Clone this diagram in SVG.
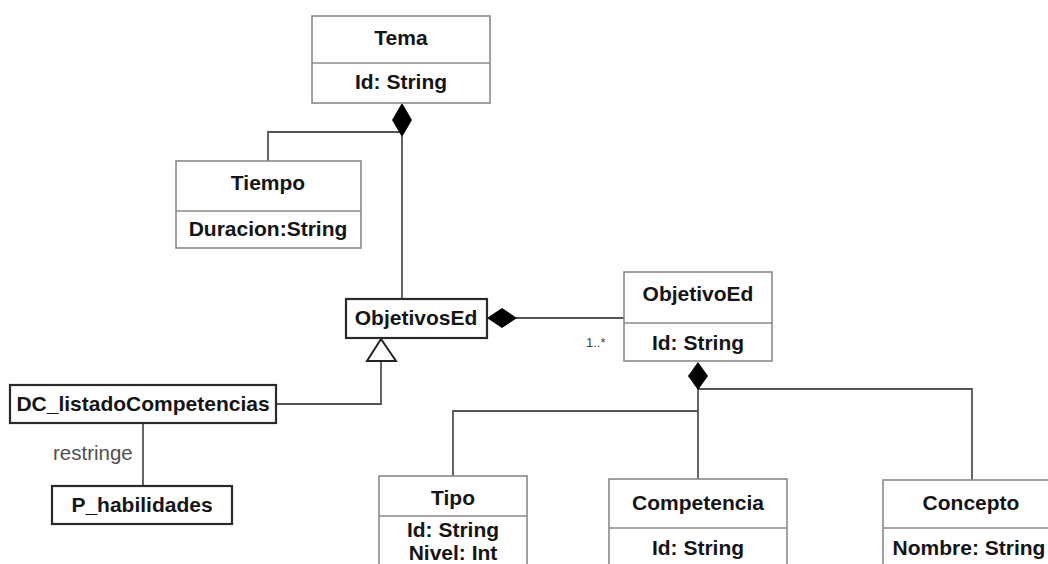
<svg xmlns="http://www.w3.org/2000/svg" width="1048" height="564" viewBox="0 0 1048 564">
  <style>
    .cls { fill: #ffffff; stroke: #8a8a8a; stroke-width: 1.6; }
    .sep { stroke: #8a8a8a; stroke-width: 1.4; }
    .blk { fill: #ffffff; stroke: #2a2a2a; stroke-width: 2.2; }
    .t { font-family: "Liberation Sans", Arial, sans-serif; font-weight: bold; font-size: 21px; fill: #151515; text-anchor: middle; }
    .lbl { font-family: "Liberation Sans", Arial, sans-serif; font-size: 20.5px; fill: #505050; }
    .mult { font-family: "Liberation Sans", Arial, sans-serif; font-size: 13px; fill: #444444; }
    .edge { fill: none; stroke: #555555; stroke-width: 1.8; }
    .comp { fill: #000000; stroke: none; }
    .gen { fill: #ffffff; stroke: #222222; stroke-width: 2; }
  </style>
  <rect width="1048" height="564" fill="#ffffff"/>

  <!-- connectors -->
  <g id="connectors">
    <!-- Tema composition -->
    <polyline class="edge" points="268,161 268,132 402,132"/>
    <line class="edge" x1="402" y1="136" x2="402" y2="299"/>
    <polygon class="comp" points="402,103 412,120 402,137 392,120"/>
    <!-- ObjetivosEd to ObjetivoEd -->
    <line class="edge" x1="516" y1="318" x2="624" y2="318"/>
    <polygon class="comp" points="487,318 502,308 517,318 502,328"/>
    <text class="mult" x="586" y="347">1..*</text>
    <!-- generalization -->
    <polyline class="edge" points="381,361 381,404 276,404"/>
    <polygon class="gen" points="381,339 396,361 367,361"/>
    <!-- restringe -->
    <line class="edge" x1="143" y1="423" x2="143" y2="486"/>
    <text class="lbl" x="53" y="460">restringe</text>
    <!-- ObjetivoEd composition -->
    <polyline class="edge" points="698,389 972,389 972,480"/>
    <polyline class="edge" points="698,411 453,411 453,476"/>
    <line class="edge" x1="698" y1="388" x2="698" y2="479"/>
    <polygon class="comp" points="698,362 708,376 698,390 688,376"/>
  </g>

  <g id="tema">
    <rect class="cls" x="312" y="16" width="178" height="87"/>
    <line class="sep" x1="312" y1="63" x2="490" y2="63"/>
    <text class="t" x="401" y="45">Tema</text>
    <text class="t" x="401" y="89">Id: String</text>
  </g>

  <g id="tiempo">
    <rect class="cls" x="176" y="161" width="185" height="87"/>
    <line class="sep" x1="176" y1="211" x2="361" y2="211"/>
    <text class="t" x="268" y="190">Tiempo</text>
    <text class="t" x="268" y="236">Duracion:String</text>
  </g>

  <g id="objetivosEd">
    <rect class="blk" x="346" y="299" width="141" height="39"/>
    <text class="t" x="416" y="325">ObjetivosEd</text>
  </g>

  <g id="objetivoEd">
    <rect class="cls" x="624" y="272" width="148" height="89"/>
    <line class="sep" x1="624" y1="323" x2="772" y2="323"/>
    <text class="t" x="698" y="301">ObjetivoEd</text>
    <text class="t" x="698" y="350">Id: String</text>
  </g>

  <g id="dcListado">
    <rect class="blk" x="10" y="385" width="266" height="38"/>
    <text class="t" x="143" y="411">DC_listadoCompetencias</text>
  </g>

  <g id="pHabilidades">
    <rect class="blk" x="52" y="486" width="180" height="38"/>
    <text class="t" x="142" y="512">P_habilidades</text>
  </g>

  <g id="tipo">
    <rect class="cls" x="379" y="476" width="148" height="100"/>
    <line class="sep" x1="379" y1="516" x2="527" y2="516"/>
    <text class="t" x="453" y="505">Tipo</text>
    <text class="t" x="453" y="537">Id: String</text>
    <text class="t" x="453" y="560">Nivel: Int</text>
  </g>

  <g id="competencia">
    <rect class="cls" x="609" y="479" width="178" height="100"/>
    <line class="sep" x1="609" y1="528" x2="787" y2="528"/>
    <text class="t" x="698" y="510">Competencia</text>
    <text class="t" x="698" y="555">Id: String</text>
  </g>

  <g id="concepto">
    <rect class="cls" x="883" y="480" width="180" height="100"/>
    <line class="sep" x1="883" y1="528" x2="1063" y2="528"/>
    <text class="t" x="971" y="510">Concepto</text>
    <text class="t" x="969" y="555">Nombre: String</text>
  </g>
</svg>
